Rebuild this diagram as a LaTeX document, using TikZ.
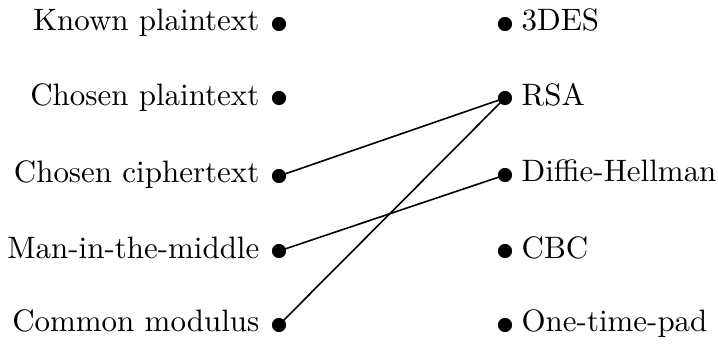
\documentclass[tikz,border=0pt]{standalone}
\begin{document}
\begin{tikzpicture}[x=0.31pt,y=-0.31pt,
  dot/.style={circle,fill=black,inner sep=0pt,minimum size=4.4pt},
  lab/.style={font=\fontsize{9.6pt}{11.5pt}\selectfont,inner sep=0pt},
  link/.style={line width=0.5pt}]
\useasboundingbox (0,0) rectangle (718,345);
\foreach \n/\y/\t in {k/24/Known plaintext, cp/98/Chosen plaintext, cc/176/Chosen ciphertext, mm/251/Man-in-the-middle, cm/325/Common modulus}{
  \node[dot] (\n) at (279,\y) {};
  \node[lab,anchor=base east] (\n l) at ([xshift=-19*0.31pt,yshift=-7*0.31pt]\n.center) {\t};
}
\foreach \n/\y/\t in {des/24/3DES, rsa/98/RSA, dh/175/Diffie-Hellman, cbc/251/CBC, otp/325/One-time-pad}{
  \node[dot] (\n) at (505,\y) {};
  \node[lab,anchor=base west] (\n l) at ([xshift=16*0.31pt,yshift=-7*0.31pt]\n.center) {\t};
}
\draw[link] (cc.center) -- (rsa.center);
\draw[link] (mm.center) -- (dh.center);
\draw[link] (cm.center) -- (rsa.center);
\end{tikzpicture}
\end{document}
